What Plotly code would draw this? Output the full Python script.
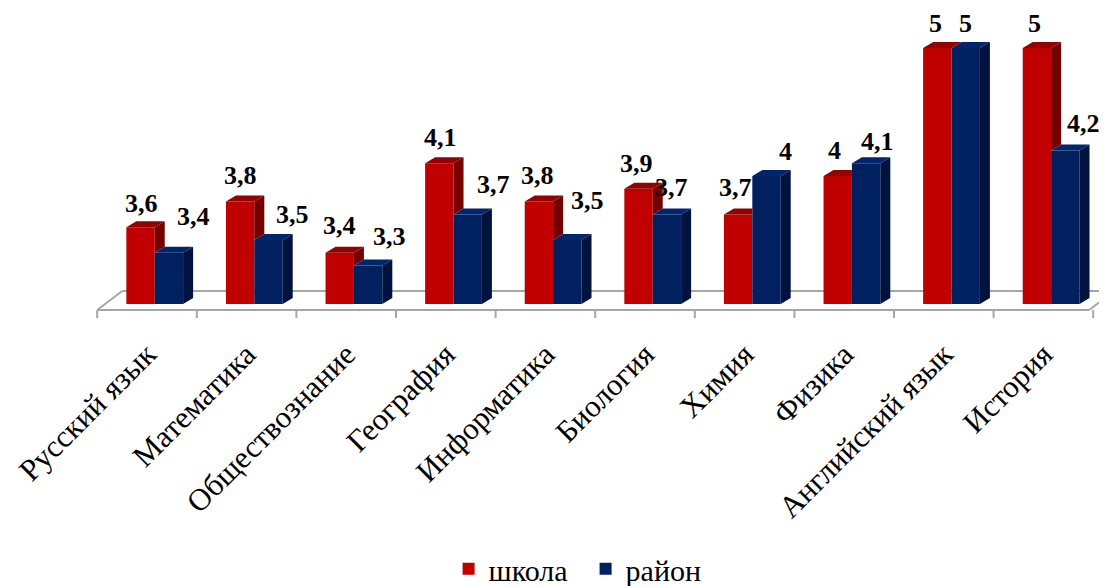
import plotly.graph_objects as go

# ---- data ----
categories = ["Русский язык", "Математика", "Обществознание", "География", "Информатика",
              "Биология", "Химия", "Физика", "Английский язык", "История"]
school = [3.6, 3.8, 3.4, 4.1, 3.8, 3.9, 3.7, 4.0, 5.0, 5.0]
district = [3.4, 3.5, 3.3, 3.7, 3.5, 3.7, 4.0, 4.1, 5.0, 4.2]
series_names = ["школа", "район"]

# ---- label placement (style, pixels) ----
red_dx = [1, 0, 0, 1, -1, -2, -3, -3, -2, -2]
red_gap = [15, 17, 18, 17, 17, 16, 18, 17, 16, 16]
blue_dx = [25, 24, 21, 26, 20, 5, 19, 11, 0, 18]
blue_gap = [27, 17, 20, 21, 31, 18, 16, 13, 16, 18]

# ---- geometry / style ----
W, H = 1107, 586
OFF = 8              # page offset of the figure
PX_X = 99.6          # px per category
X0_PX = 147 - OFF    # px of first category center (figure coords)
PX_Y = 128           # px per value unit
BASE = 3.0
BASE_PX = 304 - OFF
TOP_PX, BOT_PX = 12, 310
xr = [-X0_PX / PX_X, (W - X0_PX) / PX_X]
yr = [BASE - (BOT_PX - BASE_PX) / PX_Y, BASE + (BASE_PX - TOP_PX) / PX_Y]
DX = 10 / PX_X
DY = 6 / PX_Y
BW = 0.285
RC, BC = -0.065, 0.22

RED, RED_TOP, RED_SIDE = "#C00000", "#950000", "#740000"
BLUE, BLUE_TOP, BLUE_SIDE = "#002060", "#00276E", "#00123E"
GRID = "#A6A6A6"
FONT = "Times New Roman, Liberation Serif, DejaVu Serif, serif"

n = len(categories)
xs = list(range(n))

fig = go.Figure()
fig.add_trace(go.Bar(x=[i + RC for i in xs], y=[v - BASE for v in school], base=BASE,
                     width=BW, marker=dict(color=RED, line=dict(width=0)),
                     name=series_names[0], hoverinfo="skip", showlegend=False))
fig.add_trace(go.Bar(x=[i + BC for i in xs], y=[v - BASE for v in district], base=BASE,
                     width=BW, marker=dict(color=BLUE, line=dict(width=0)),
                     name=series_names[1], hoverinfo="skip", showlegend=False))


def poly_trace(px, py, color):
    fig.add_trace(go.Scatter(x=px, y=py, mode="lines", line=dict(width=0), fill="toself",
                             fillcolor=color, showlegend=False, hoverinfo="skip"))


rt_x, rt_y, rs_x, rs_y, bt_x, bt_y, bs_x, bs_y = [], [], [], [], [], [], [], []
for i in xs:
    vr, vb = school[i], district[i]
    rl, rr = i + RC - BW / 2, i + RC + BW / 2
    bl, br = i + BC - BW / 2, i + BC + BW / 2
    # red top face (clipped where the taller blue bar hides it)
    if vb > vr:
        rt_x += [rl, rl + DX, rr, rr, None]
        rt_y += [vr, vr + DY, vr + DY, vr, None]
    else:
        rt_x += [rl, rl + DX, rr + DX, rr, None]
        rt_y += [vr, vr + DY, vr + DY, vr, None]
    # red side face: only the part above the blue bar
    if vr > vb:
        rs_x += [rr, rr + DX, rr + DX, rr, None]
        rs_y += [vr, vr + DY, vb + DY, vb, None]
    # blue top & side
    bt_x += [bl, bl + DX, br + DX, br, None]
    bt_y += [vb, vb + DY, vb + DY, vb, None]
    bs_x += [br, br + DX, br + DX, br, None]
    bs_y += [BASE, BASE + DY, vb + DY, vb, None]

poly_trace(rt_x, rt_y, RED_TOP)
poly_trace(rs_x, rs_y, RED_SIDE)
poly_trace(bt_x, bt_y, BLUE_TOP)
poly_trace(bs_x, bs_y, BLUE_SIDE)

# legend entries (square swatches)
for name, col in zip(series_names, [RED, BLUE]):
    fig.add_trace(go.Scatter(x=[None], y=[None], mode="markers", name=name,
                             marker=dict(symbol="square", size=16, color=col),
                             hoverinfo="skip"))

# ---- floor (3D base) ----
front_v = BASE - 6 / PX_Y
back_v = BASE + 13 / PX_Y
depth_x = 25 / PX_X
tick_v = BASE - 14 / PX_Y
left = -0.5
right = n - 0.5 - 0.04
shapes = []
line = dict(color=GRID, width=2)
shapes.append(dict(type="line", xref="x", yref="y", x0=left, y0=front_v, x1=right, y1=front_v, line=line))
shapes.append(dict(type="line", xref="x", yref="y", x0=left + depth_x, y0=back_v, x1=right + depth_x, y1=back_v, line=line, layer="below"))
shapes.append(dict(type="line", xref="x", yref="y", x0=left, y0=front_v, x1=left + depth_x, y1=back_v, line=line))
shapes.append(dict(type="line", xref="x", yref="y", x0=right, y0=front_v, x1=right + depth_x, y1=back_v, line=line))
for k in range(n + 1):
    tx = -0.5 + k
    shapes.append(dict(type="line", xref="x", yref="y", x0=tx, y0=front_v, x1=tx, y1=tick_v, line=line))


def fmt(v):
    return f"{v:g}".replace(".", ",")


LABEL_FONT = dict(family=FONT, size=26, color="black", weight="bold")
annotations = []
for i in xs:
    annotations.append(dict(x=i + RC, y=school[i], xref="x", yref="y", text=fmt(school[i]),
                            showarrow=False, xanchor="center", yanchor="middle",
                            xshift=red_dx[i], yshift=red_gap[i] + 9,
                            font=LABEL_FONT))
    annotations.append(dict(x=i + BC, y=district[i], xref="x", yref="y", text=fmt(district[i]),
                            showarrow=False, xanchor="center", yanchor="middle",
                            xshift=blue_dx[i], yshift=blue_gap[i] + 9,
                            font=LABEL_FONT))

fig.update_layout(
    width=W, height=H,
    margin=dict(l=0, r=0, t=TOP_PX, b=H - BOT_PX, pad=0),
    paper_bgcolor="white", plot_bgcolor="white",
    barmode="overlay",
    font=dict(family=FONT),
    shapes=shapes, annotations=annotations,
    showlegend=True,
    legend=dict(orientation="h", xref="container", yref="container",
                x=0.398, xanchor="left", y=0.043, yanchor="middle",
                font=dict(family=FONT, size=30, color="black"),
                entrywidth=92, entrywidthmode="pixels",
                itemsizing="constant", traceorder="normal", bgcolor="rgba(0,0,0,0)"),
    xaxis=dict(range=xr, showgrid=False, zeroline=False, showline=False,
               tickmode="array", tickvals=xs, ticktext=categories, tickangle=-45,
               ticks="", ticklabelstandoff=11, ticklabeloverflow="allow",
               tickfont=dict(family=FONT, size=31, color="black"), fixedrange=True),
    yaxis=dict(range=yr, showgrid=False, zeroline=False, showline=False,
               showticklabels=False, ticks="", fixedrange=True),
)

fig.write_html("out.html")
